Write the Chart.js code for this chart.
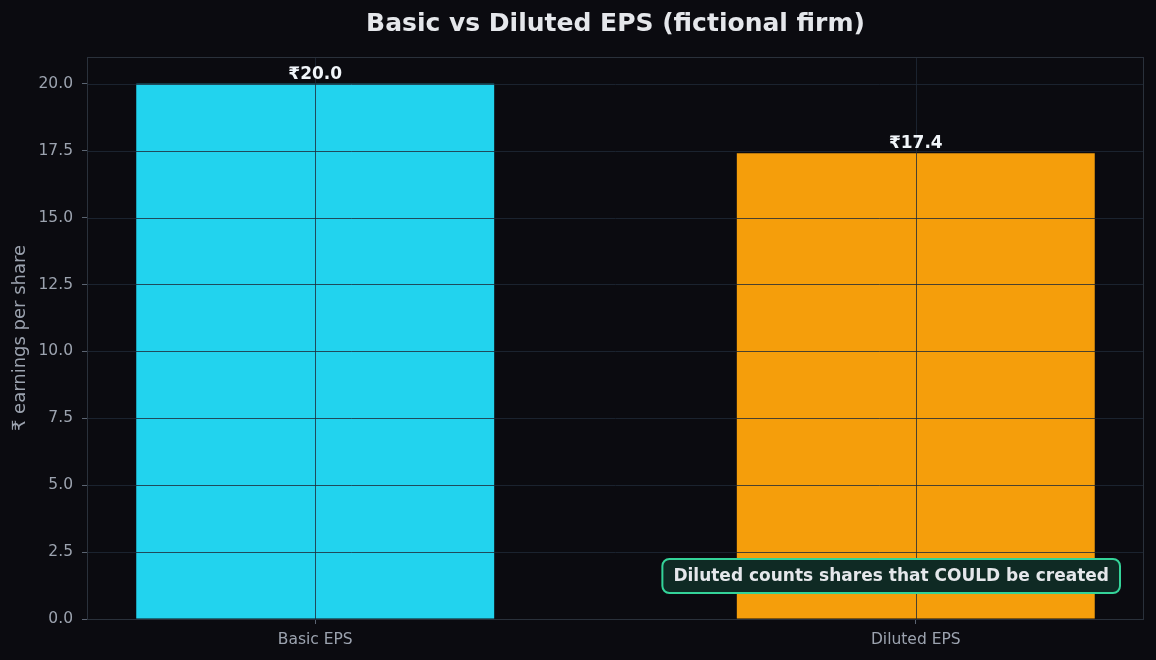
<!DOCTYPE html>
<html>
<head>
<meta charset="utf-8">
<script src="https://cdn.jsdelivr.net/npm/chart.js@4"></script>
<style>
  html, body { margin: 0; padding: 0; background: #0b0b10; }
  #wrap { width: 1156px; height: 660px; }
</style>
</head>
<body>
<div id="wrap"><canvas id="epsChart" width="1156" height="660"></canvas></div>
<script>
// Chart data
const categories = ["Basic EPS", "Diluted EPS"];
const epsValues = [20.0, 17.4];
const barColors = ["#22d3ee", "#f59e0b"];
const yTicks = [0, 2.5, 5, 7.5, 10, 12.5, 15, 17.5, 20];
const titleText = "Basic vs Diluted EPS (fictional firm)";
const noteText = "Diluted counts shares that COULD be created";

const FONT = "'DejaVu Sans', sans-serif";
const gridColor = "rgba(31, 41, 55, 0.8)";

// Helper: background, grid over the bars, frame, value labels, title and note box.
const decorPlugin = {
    id: "decor",
    beforeDraw(chart) {
        const ctx = chart.ctx;
        ctx.save();
        ctx.fillStyle = "#0b0b10";
        ctx.fillRect(0, 0, chart.width, chart.height);
        ctx.restore();
    },
    afterDatasetsDraw(chart) {
        const ctx = chart.ctx;
        const area = chart.chartArea;
        const xs = chart.scales.x;
        const ys = chart.scales.y;
        ctx.save();
        ctx.strokeStyle = gridColor;
        ctx.lineWidth = 1;
        ys.ticks.forEach((t) => {
            const y = Math.round(ys.getPixelForValue(t.value)) + 0.5;
            ctx.beginPath();
            ctx.moveTo(area.left, y);
            ctx.lineTo(area.right, y);
            ctx.stroke();
        });
        xs.ticks.forEach((t) => {
            const x = Math.round(xs.getPixelForValue(t.value)) + 0.5;
            ctx.beginPath();
            ctx.moveTo(x, area.top);
            ctx.lineTo(x, area.bottom);
            ctx.stroke();
        });

        // frame around the plot
        ctx.strokeStyle = "#2a313b";
        ctx.strokeRect(area.left + 0.5, area.top + 0.5, area.right - area.left - 1, area.bottom - area.top);

        // title, centred over the plot
        ctx.font = "bold 25px " + FONT;
        ctx.fillStyle = "#e5e7eb";
        ctx.textAlign = "center";
        ctx.textBaseline = "middle";
        ctx.fillText(titleText, (area.left + area.right) / 2, 24);

        // value labels above the bars
        const meta = chart.getDatasetMeta(0);
        ctx.font = "bold 17px " + FONT;
        ctx.fillStyle = "#f1f5f9";
        ctx.textAlign = "center";
        ctx.textBaseline = "bottom";
        meta.data.forEach((bar, i) => {
            ctx.fillText("₹" + epsValues[i].toFixed(1), bar.x, bar.y - 1);
        });

        // note box in the lower right corner
        ctx.font = "bold 17px " + FONT;
        const w = ctx.measureText(noteText).width + 22;
        const h = 34;
        const right = area.right - 24;
        const cy = area.bottom - 43;
        const left = right - w;
        const top = cy - h / 2;
        ctx.beginPath();
        ctx.roundRect(left, top, w, h, 7);
        ctx.fillStyle = "#0f2a24";
        ctx.fill();
        ctx.lineWidth = 2;
        ctx.strokeStyle = "#34d399";
        ctx.stroke();
        ctx.fillStyle = "#e5e7eb";
        ctx.textAlign = "center";
        ctx.textBaseline = "middle";
        ctx.fillText(noteText, left + w / 2, cy + 1);
        ctx.restore();
    },
};

const ctx = document.getElementById("epsChart").getContext("2d");
new Chart(ctx, {
    type: "bar",
    data: {
        datasets: [
            {
                data: epsValues.map((v, i) => ({ x: i, y: v })),
                backgroundColor: barColors,
                borderWidth: 0,
                barPercentage: 0.596,
                categoryPercentage: 1,
            },
        ],
    },
    options: {
        responsive: false,
        animation: false,
        layout: { padding: { left: 0, right: 12, top: 57, bottom: 0 } },
        plugins: {
            legend: { display: false },
            tooltip: { enabled: false },
            title: { display: false },
        },
        scales: {
            x: {
                type: "linear",
                min: -0.38,
                max: 1.38,
                offset: false,
                afterBuildTicks: (s) => { s.ticks = categories.map((_, i) => ({ value: i })); },
                afterFit: (s) => { s.height = 41; },
                grid: { offset: false, drawOnChartArea: false, drawTicks: true, tickLength: 5, tickColor: "#5b6472" },
                border: { display: false },
                ticks: {
                    color: "#9ca3af",
                    font: { family: FONT, size: 15.5 },
                    padding: 7,
                    maxRotation: 0,
                    autoSkip: false,
                    callback: (v) => categories[v],
                },
            },
            y: {
                min: 0,
                max: 21,
                afterBuildTicks: (s) => { s.ticks = yTicks.map((v) => ({ value: v })); },
                afterFit: (s) => { s.width = 87; },
                grid: { drawOnChartArea: false, drawTicks: true, tickLength: 5, tickColor: "#5b6472" },
                border: { display: false },
                ticks: {
                    color: "#9ca3af",
                    font: { family: FONT, size: 15.5 },
                    padding: 9,
                    callback: (v) => v.toFixed(1),
                },
                title: {
                    display: true,
                    text: "₹ earnings per share",
                    color: "#9ca3af",
                    font: { family: FONT, size: 18 },
                    padding: { top: 10, bottom: 0 },
                },
            },
        },
    },
    plugins: [decorPlugin],
});
</script>
</body>
</html>
